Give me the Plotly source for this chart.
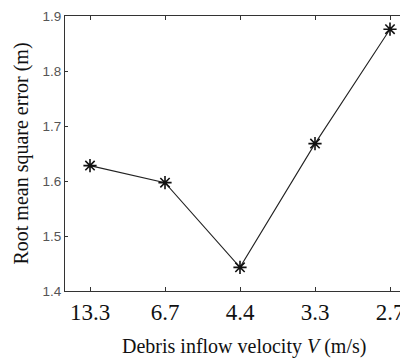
import plotly.graph_objects as go

categories = ["13.3", "6.7", "4.4", "3.3", "2.7"]
rmse = [1.628, 1.597, 1.443, 1.668, 1.876]
y_ticks = [1.4, 1.5, 1.6, 1.7, 1.8, 1.9]
x_title = "Debris inflow velocity <i>V</i> (m/s)"
y_title = "Root mean square error (m)"

x_idx = list(range(len(categories)))

SERIF = "'Times New Roman', 'Liberation Serif', Times, serif"
SANS = "Arial, 'Liberation Sans', Helvetica, sans-serif"

fig = go.Figure()
fig.add_trace(go.Scatter(
    x=x_idx, y=rmse, mode="lines+markers",
    line=dict(color="#222", width=1.1),
    marker=dict(symbol="asterisk-open", size=11, color="#111", line=dict(color="#111", width=1.6)),
    showlegend=False,
))

# page body has an 8px margin, so the figure is shifted by 8px right/down
fig.update_layout(
    width=400, height=352,
    margin=dict(l=57, r=0, t=8, b=69),
    paper_bgcolor="white", plot_bgcolor="white",
    xaxis=dict(
        range=[-1/3, 4.24], tickvals=x_idx, ticktext=categories,
        showgrid=False, zeroline=False,
        showline=True, linecolor="#333", linewidth=1, mirror="ticks",
        ticks="inside", ticklen=4, tickcolor="#333",
        tickfont=dict(family=SERIF, size=23, color="#111"),
    ),
    yaxis=dict(
        range=[1.4, 1.9], tickvals=y_ticks, ticktext=[f"{v:.1f}" for v in y_ticks],
        showgrid=False, zeroline=False,
        showline=True, linecolor="#333", linewidth=1, mirror=True,
        ticks="inside", ticklen=3, tickcolor="#333",
        tickfont=dict(family=SANS, size=13.5, color="#555"),
        title=dict(text=y_title,
                   font=dict(family=SERIF, size=20, color="#111"), standoff=8),
    ),
)
fig.add_annotation(
    text=x_title, xref="paper", yref="paper", x=0.522, y=0,
    xanchor="center", yanchor="middle", yshift=-55, showarrow=False,
    font=dict(family=SERIF, size=20, color="#111"),
)

fig.write_html("out.html")
